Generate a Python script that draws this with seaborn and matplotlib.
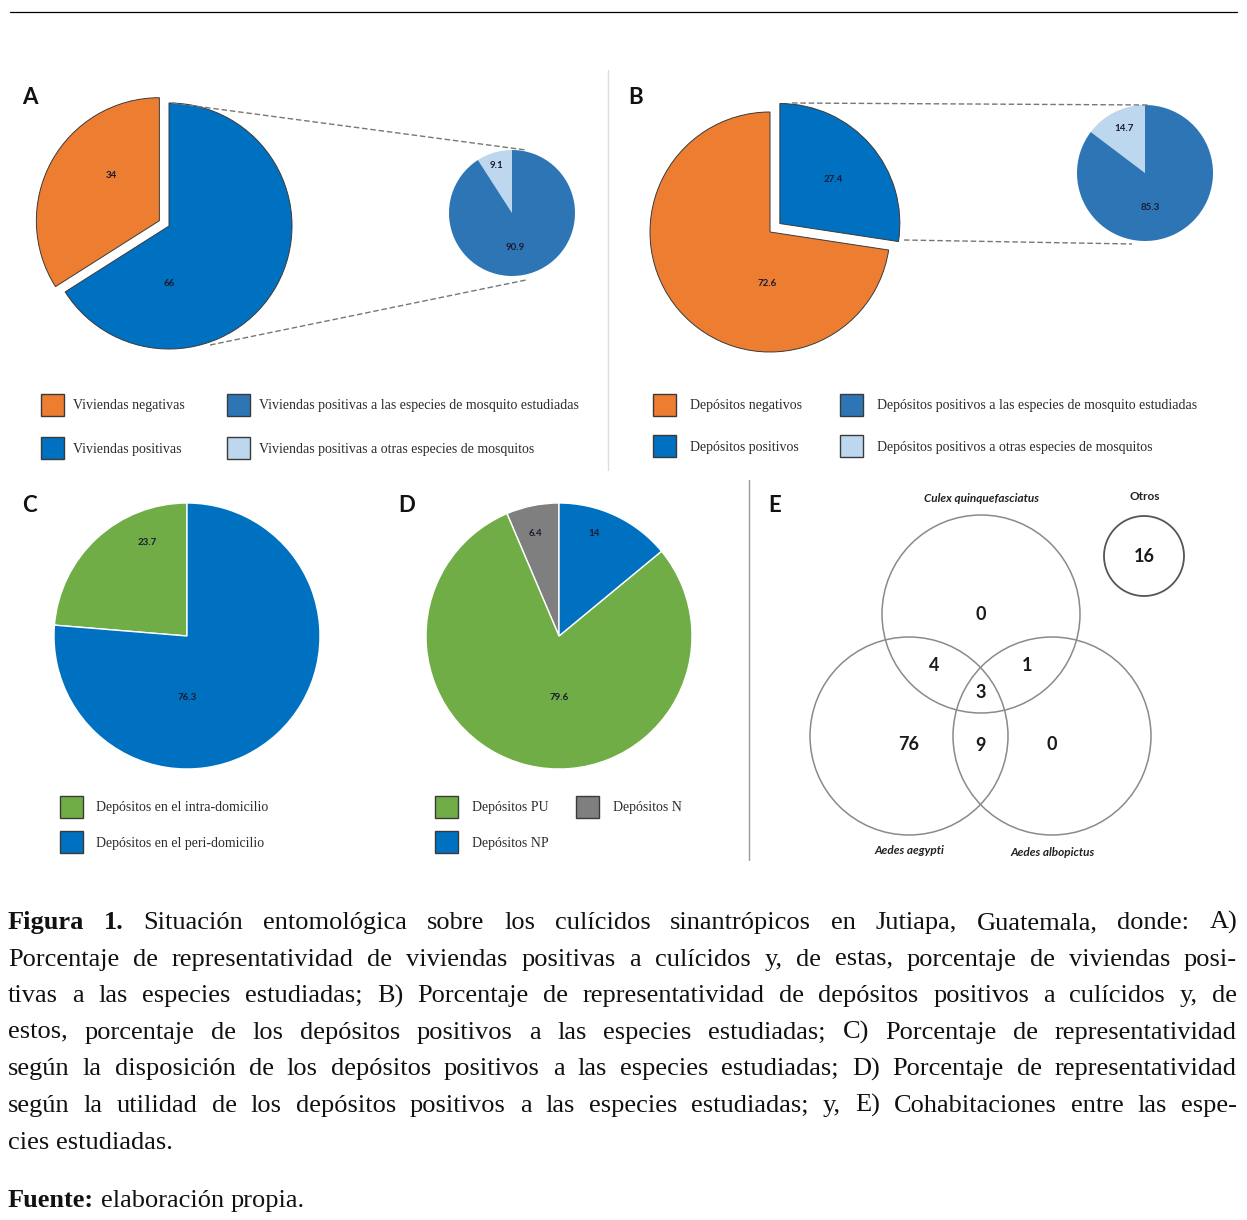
import matplotlib
matplotlib.use("Agg")
import matplotlib.pyplot as plt
from matplotlib.patches import Rectangle, Circle
import seaborn as sns

W, H = 1247, 1220

# ---------------- data ----------------
# A) viviendas
a_main_values = [34, 66]
a_main_colors = ["#ED7D31", "#0070C0"]
a_sub_values = [9.1, 90.9]
a_sub_colors = ["#BDD7EE", "#2E75B6"]
a_legend = ["Viviendas negativas", "Viviendas positivas",
            "Viviendas positivas a las especies de mosquito estudiadas",
            "Viviendas positivas a otras especies de mosquitos"]

# B) depósitos
b_main_values = [72.6, 27.4]
b_main_colors = ["#ED7D31", "#0070C0"]
b_sub_values = [14.7, 85.3]
b_sub_colors = ["#BDD7EE", "#2E75B6"]
b_legend = ["Depósitos negativos", "Depósitos positivos",
            "Depósitos positivos a las especies de mosquito estudiadas",
            "Depósitos positivos a otras especies de mosquitos"]

# C) disposición
c_values = [23.7, 76.3]
c_colors = ["#70AD47", "#0070C0"]
c_legend = ["Depósitos en el intra-domicilio", "Depósitos en el peri-domicilio"]

# D) utilidad
d_values = [6.4, 79.6, 14]
d_colors = ["#7F7F7F", "#70AD47", "#0070C0"]
d_legend = ["Depósitos PU", "Depósitos NP", "Depósitos N"]

# E) cohabitaciones
venn_sets = ["Culex quinquefasciatus", "Aedes aegypti", "Aedes albopictus"]
venn_counts = {"100": 0, "010": 76, "001": 0, "110": 4, "101": 1, "011": 9, "111": 3}
otros_label = "Otros"
otros_count = 16

caption_lines = [
    "Figura 1. Situación entomológica sobre los culícidos sinantrópicos en Jutiapa, Guatemala, donde: A)",
    "Porcentaje de representatividad de viviendas positivas a culícidos y, de estas, porcentaje de viviendas posi-",
    "tivas a las especies estudiadas; B) Porcentaje de representatividad de depósitos positivos a culícidos y, de",
    "estos, porcentaje de los depósitos positivos a las especies estudiadas; C) Porcentaje de representatividad",
    "según la disposición de los depósitos positivos a las especies estudiadas; D) Porcentaje de representatividad",
    "según la utilidad de los depósitos positivos a las especies estudiadas; y, E) Cohabitaciones entre las espe-",
    "cies estudiadas.",
]
source_line = "Fuente: elaboración propia."

# ---------------- style ----------------
sns.set_theme(style="white")
plt.rcParams["font.family"] = ["Lato", "DejaVu Sans"]

SERIF = "Liberation Serif"
SANS = "Lato"


def py(y):
    # image y (top-down) -> axes y (bottom-up)
    return H - y


fig = plt.figure(figsize=(W / 100, H / 100), dpi=100)
ax = fig.add_axes([0, 0, 1, 1])
ax.axis("off")


def draw_pie(values, colors, cx, cy, r, label_pos, explode=None, edge="none", lw=0.0):
    # explode is given in pixels here (pie uses data units)
    wedges, _ = ax.pie(values, colors=colors, startangle=90, counterclock=True,
                       center=(cx, py(cy)), radius=r, explode=explode,
                       wedgeprops=dict(edgecolor=edge, linewidth=lw))
    for v, (ox, oy) in zip(values, label_pos):
        ax.text(cx + ox * r, py(cy) + oy * r, f"{v:g}", ha="center", va="center",
                fontsize=7, fontweight="bold", color="#1b1b2f", family=SANS)
    return wedges


def draw_legend(entries, colors, positions, text_dx):
    for lab, col, (x, y) in zip(entries, colors, positions):
        ax.add_patch(Rectangle((x, py(y + 22)), 23, 22, facecolor=col,
                               edgecolor="#3a3a3a", linewidth=1.0))
        ax.text(x + text_dx, py(y + 12), lab, ha="left", va="center",
                fontsize=10, family=SERIF, color="#2b2b2b")


def panel_letter(x, y, s):
    ax.text(x, py(y), s, ha="left", va="center", fontsize=16,
            fontweight="bold", family=SANS, color="#111111")


# ---- A ----
panel_letter(22, 97, "A")
draw_pie(a_main_values, a_main_colors, 169, 226, 123,
         [(-0.47, 0.41), (0.0, -0.47)], explode=[11, 0], edge="#3a3a3a", lw=0.7)
draw_pie(a_sub_values, a_sub_colors, 512, 213, 63,
         [(-0.25, 0.76), (0.05, -0.54)])

# ---- B ----
panel_letter(628, 97, "B")
draw_pie(b_main_values, b_main_colors, 770, 232, 120,
         [(-0.02, -0.43), (0.53, 0.44)], explode=[0, 13], edge="#3a3a3a", lw=0.7)
draw_pie(b_sub_values, b_sub_colors, 1145, 173, 68,
         [(-0.31, 0.66), (0.07, -0.5)])

# ---- C ----
panel_letter(22, 505, "C")
draw_pie(c_values, c_colors, 187, 636, 133,
         [(-0.30, 0.70), (0.0, -0.46)], edge="white", lw=1.0)

# ---- D ----
panel_letter(398, 505, "D")
draw_pie(d_values, d_colors, 559, 636, 133,
         [(-0.18, 0.77), (0.0, -0.46), (0.26, 0.77)], edge="white", lw=1.0)

# pie() resets the limits, so fix the pixel-like coordinate frame afterwards
ax.set_xlim(0, W)
ax.set_ylim(0, H)
ax.set_aspect("auto")

# top rule and separators
ax.plot([10, 1237], [py(12), py(12)], color="black", lw=0.9)
ax.plot([608, 608], [py(70), py(470)], color="#dddddd", lw=1.0)
ax.plot([749, 749], [py(480), py(860)], color="#999999", lw=1.0)

# zoom connectors
dash = (0, (4, 2))
ax.plot([172, 526], [py(103), py(150)], color="#777777", lw=1.0, ls=dash)
ax.plot([210, 526], [py(345), py(280)], color="#777777", lw=1.0, ls=dash)
ax.plot([792, 1149], [py(103), py(105)], color="#777777", lw=1.0, ls=dash)
ax.plot([904, 1132], [py(240), py(244)], color="#777777", lw=1.0, ls=dash)

# legends
draw_legend(a_legend, ["#ED7D31", "#0070C0", "#2E75B6", "#BDD7EE"],
            [(41, 394), (41, 437), (227, 394), (227, 437)], 32)
draw_legend(b_legend, ["#ED7D31", "#0070C0", "#2E75B6", "#BDD7EE"],
            [(653, 394), (653, 435), (840, 394), (840, 435)], 37)
draw_legend(c_legend, ["#70AD47", "#0070C0"], [(60, 796), (60, 831)], 36)
draw_legend(d_legend, ["#70AD47", "#0070C0", "#7F7F7F"],
            [(435, 796), (435, 831), (576, 796)], 37)

# ---- E (Venn) ----
panel_letter(768, 505, "E")
centers = [(981, 614), (909, 736), (1052, 736)]
vr = 99
for (cx, cy) in centers:
    ax.add_patch(Circle((cx, py(cy)), vr, fill=False, edgecolor="#8a8a8a", lw=1.1))
ax.add_patch(Circle((1144, py(556)), 40, fill=False, edgecolor="#555555", lw=1.3))

gx = sum(c[0] for c in centers) / 3
gy = sum(c[1] for c in centers) / 3
for key, n in venn_counts.items():
    idx = [i for i, k in enumerate(key) if k == "1"]
    mx = sum(centers[i][0] for i in idx) / len(idx)
    my = sum(centers[i][1] for i in idx) / len(idx)
    if len(idx) == 1:
        x, y = mx, my + (0 if idx[0] == 0 else 8)
    elif len(idx) == 2:
        x, y = mx + 0.3 * (mx - gx), my + 0.3 * (my - gy) - 3
    else:
        x, y = gx, gy - 3
    ax.text(x, py(y), str(n), ha="center", va="center", fontsize=13,
            fontweight="bold", family=SANS, color="#1a1a1a")
ax.text(1144, py(557), str(otros_count), ha="center", va="center", fontsize=13,
        fontweight="bold", family=SANS, color="#1a1a1a")

ax.text(981, py(498), venn_sets[0], ha="center", va="center", fontsize=8.5,
        fontweight="bold", style="italic", family=SANS, color="#222222")
ax.text(909, py(851), venn_sets[1], ha="center", va="center", fontsize=8.5,
        fontweight="bold", style="italic", family=SANS, color="#222222")
ax.text(1053, py(852), venn_sets[2], ha="center", va="center", fontsize=8.5,
        fontweight="bold", style="italic", family=SANS, color="#222222")
ax.text(1145, py(497), otros_label, ha="center", va="center", fontsize=8.5,
        fontweight="bold", family=SANS, color="#222222")

# ---- caption (justified) ----
renderer = fig.canvas.get_renderer()
CAP_SIZE = 19
LEFT, RIGHT = 8, 1237


def set_line(line, y, bold_n, justify):
    words = line.split(" ")
    texts = []
    for i, w in enumerate(words):
        t = ax.text(0, py(y), w, ha="left", va="baseline", fontsize=CAP_SIZE,
                    family=SERIF, fontweight="bold" if i < bold_n else "normal",
                    color="#111111")
        texts.append(t)
    widths = [t.get_window_extent(renderer).width for t in texts]
    natural = 0.25 * CAP_SIZE * 100 / 72
    if justify and len(words) > 1:
        gap = max((RIGHT - LEFT - sum(widths)) / (len(words) - 1), 2.0)
    else:
        gap = natural
    x = LEFT
    for t, wdt in zip(texts, widths):
        t.set_x(x)
        x += wdt + gap


base = 929
for i, line in enumerate(caption_lines):
    set_line(line, base + i * 36.6, 2 if i == 0 else 0, i < len(caption_lines) - 1)
set_line(source_line, 1207, 1, False)

fig.savefig("out.png", dpi=100)
